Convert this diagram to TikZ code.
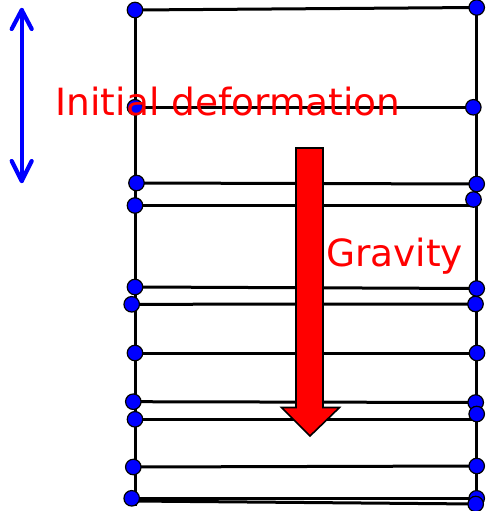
\documentclass[tikz,border=0pt]{standalone}
\usepackage{fontspec}
\setmainfont{DejaVu Sans}
\begin{document}
\begin{tikzpicture}[x=1pt,y=-1pt,
  frameline/.style={draw=black,line width=3pt},
  dot/.style={circle,fill=blue,draw=black,line width=1.2pt,minimum size=15.5pt,inner sep=0pt},
  bluearrow/.style={draw=blue,line width=4.2pt,line cap=round,line join=round},
  redarrow/.style={fill=red,draw=black,line width=1.6pt,line join=miter},
  label/.style={text=red,font=\fontsize{37.5}{44}\selectfont,inner sep=0pt,anchor=base west}]
\useasboundingbox (0,0) rectangle (485,511);
% end coordinates of the frame
\coordinate (lb) at (135,506);
\coordinate (rb) at (476.7,506);
\coordinate (c12) at (134,501);
% left nodes
\path (135,10) coordinate (a1) (135,107.3) coordinate (a2) (136.5,183) coordinate (a3)
  (135,205.5) coordinate (a4) (135,287) coordinate (a5) (131.7,304.3) coordinate (a6)
  (135,353) coordinate (a7) (133.3,401.7) coordinate (a8) (135,419.3) coordinate (a9)
  (133.3,467) coordinate (a10) (131.7,498.3) coordinate (a11);
% right nodes
\path (476.7,7.5) coordinate (b1) (473.3,107.3) coordinate (b2) (476.7,184) coordinate (b3)
  (473.5,199.5) coordinate (b4) (476.7,288.5) coordinate (b5) (475.5,304) coordinate (b6)
  (477,353) coordinate (b7) (475.7,402.5) coordinate (b8) (476.7,414) coordinate (b9)
  (476.7,466) coordinate (b10) (476.7,498.3) coordinate (b11) (475.7,504) coordinate (b12);
% vertical lines
\draw[frameline] (a1) -- (lb);
\draw[frameline] (b1) -- (rb);
% horizontal lines
\draw[frameline] (a1) -- (b1);
\draw[frameline] (a2) -- (b2);
\draw[frameline] (a3) -- (b3);
\draw[frameline] (a4) -- (a4 -| b4);
\draw[frameline] (a5) -- (b5);
\draw[frameline] (a6) -- (b6);
\draw[frameline] (a7) -- (b7);
\draw[frameline] (a8) -- (b8);
\draw[frameline] (a9) -- (a9 -| b9);
\draw[frameline] (a10) -- (b10);
\draw[frameline] (a11) -- (b11);
\draw[frameline] (c12) -- (b12);
% dots
\foreach \i in {1,...,11} { \node[dot] (na\i) at (a\i) {}; }
\foreach \i in {1,...,12} { \node[dot] (nb\i) at (b\i) {}; }
% blue double arrow
\coordinate (bt) at (21.7,10);
\coordinate (bb) at (21.7,181);
\draw[bluearrow] (bt) -- (bb);
\draw[bluearrow] ([xshift=-10pt,yshift=-19pt]bt) -- (bt) -- ([xshift=10pt,yshift=-19pt]bt);
\draw[bluearrow] ([xshift=-10pt,yshift=20pt]bb) -- (bb) -- ([xshift=10pt,yshift=20pt]bb);
% red gravity arrow
\draw[redarrow] (296,148) -- (323,148) -- (323,407.5) -- (339.5,407.5) -- (310,436)
  -- (281.5,407.5) -- (296,407.5) -- cycle;
% labels
\node[label] (init) at (55.5,115) {Initial deformation};
\node[label] (grav) at (326,266) {Gravity};
\end{tikzpicture}
\end{document}
